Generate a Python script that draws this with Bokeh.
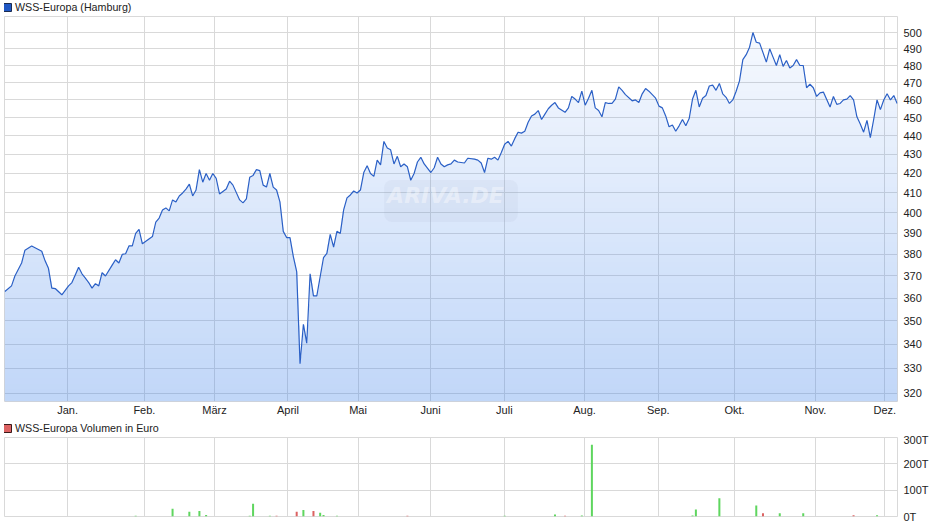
import numpy as np
from bokeh.plotting import figure
from bokeh.models import (Range1d, FixedTicker, PrintfTickFormatter, Legend,
                          LegendItem, Label, ColumnDataSource)
from bokeh.layouts import column
from bokeh.embed import file_html
from bokeh.resources import INLINE

# ---------------- data ----------------
days = [0, 2, 3, 5, 6, 8, 11, 12, 13, 14, 15, 17, 18, 19, 20, 21, 22, 23, 24, 25,
        26, 27, 28, 29, 30, 32, 33, 34, 35, 36, 37, 38, 39, 40, 41, 44, 45, 46, 47, 48,
        49, 50, 51, 52, 53, 54, 55, 56, 57, 58, 59, 60, 61, 62, 63, 64, 66, 67, 68, 70,
        71, 72, 73, 74, 75, 76, 77, 78, 79, 80, 81, 82, 83, 84, 85, 86, 87, 88, 89, 90,
        91, 92, 93, 95, 96, 97, 98, 99, 100, 101, 102, 103, 104, 105, 106, 107, 108, 109, 110, 111,
        112, 113, 114, 115, 116, 117, 118, 119, 120, 121, 122, 123, 124, 125, 127, 128, 129, 130, 131, 132,
        133, 134, 135, 137, 138, 140, 141, 142, 143, 144, 145, 146, 147, 148, 149, 150, 151, 152, 153, 154,
        155, 156, 157, 158, 159, 160, 161, 162, 163, 164, 165, 167, 168, 169, 170, 171, 172, 173, 174, 175,
        176, 177, 178, 179, 180, 181, 182, 183, 184, 185, 187, 188, 189, 190, 191, 192, 193, 194, 195, 196,
        197, 198, 199, 200, 201, 202, 203, 204, 205, 206, 207, 208, 209, 210, 211, 212, 213, 214, 215, 216,
        217, 218, 219, 220, 221, 222, 223, 224, 225, 227, 228, 229, 230, 231, 232, 233, 234, 235, 236, 237,
        238, 239, 240, 241, 242, 243, 244, 246, 247, 248, 249, 250, 251, 252, 253, 254, 255, 256, 257, 258,
        259, 260, 261, 262, 263, 264, 265, 266]

prices = [363, 365.5, 370, 376, 382, 384, 381.5, 377, 373.5, 364.5, 364.3, 361.5, 363.5, 365.5, 367, 370.5, 374, 371, 369, 367,
          364.5, 366.5, 365.5, 371.5, 370, 375, 377.5, 376, 380, 380.3, 384, 384, 390, 392, 385, 388.5, 395.5, 397.5, 401.5, 402.5,
          401, 406.5, 405.5, 408.5, 410, 412, 414.5, 408.5, 411.5, 422, 415.5, 420, 416.5, 420, 417.5, 409.5, 412, 416, 414, 406.5,
          405, 407, 418, 419, 422, 421.5, 414, 413, 420, 413, 411.5, 405.5, 391, 388, 388, 379, 372, 332, 348.5, 340.5,
          371, 361, 361, 378.5, 380.5, 389.5, 383.5, 391, 390, 401.5, 407.5, 409, 411, 410, 411.5, 420.5, 424, 420, 418.5, 427,
          424.5, 437, 433.5, 432.5, 425, 429, 423.5, 425, 423.5, 416.5, 420, 426, 428.5, 425, 420.5, 423, 428.5, 425, 423.5, 424.5,
          425, 427, 426, 425.5, 428, 427.5, 427, 425.5, 420.5, 428, 427.5, 428.5, 427, 431, 435.5, 437, 434.5, 438.5, 442, 441.5,
          442.5, 447.5, 451, 452, 454, 449, 452, 455, 457, 458.5, 455.5, 453, 455.5, 462, 460.5, 458.5, 465, 457, 461, 465.5,
          455.5, 454, 450.5, 458.5, 458, 458, 460.5, 467.5, 465.5, 463, 459.5, 460, 458.5, 463.5, 466.5, 465, 463, 461, 456.5, 455.5,
          451, 445, 446, 442.5, 445.5, 449, 445.5, 449.5, 460.5, 465.5, 456, 461, 462.5, 468, 468.5, 465.5, 469.5, 463.5, 461.5, 458,
          460, 465, 471, 483.5, 486.5, 491, 500, 494, 493.5, 482, 490, 485, 480, 486.5, 479.5, 483, 478.5, 480, 483.5, 480,
          480, 467, 469, 467, 462, 464, 464.5, 456, 462, 457.5, 458, 460, 460.5, 462.5, 460, 450.5, 446.5, 442, 448.5, 439,
          449, 460, 454.5, 460, 463.5, 460, 462.5, 458]

month_ticks = [18.7, 41.6, 62.5, 84.4, 105.3, 126.9, 148.9, 172.8, 194.8, 217.5, 241.6, 262.3]
month_labels = ["Jan.", "Feb.", "März", "April", "Mai", "Juni",
                "Juli", "Aug.", "Sep.", "Okt.", "Nov.", "Dez."]
price_ticks = [320, 330, 340, 350, 360, 370, 380, 390, 400, 410,
               420, 430, 440, 450, 460, 470, 480, 490, 500]

vol_days = [39, 50, 55, 58, 60, 73, 74, 79, 81, 87, 89, 92, 94, 95, 99, 120,
            149, 164, 167, 172, 175, 205, 206, 213, 224, 226, 231, 238, 253, 260]
vol_values = [3, 29, 18, 21, 6, 3, 48, 3, 3, 18, 25, 21, 14, 6, 3, 3,
              3, 8, 3, 4, 272, 4, 27, 69, 42, 12, 12, 12, 5, 5]
vol_dir = ["up", "up", "up", "up", "up", "up", "up", "up", "down", "down", "up", "down", "up", "up", "up", "down",
           "up", "up", "down", "up", "up", "up", "up", "up", "up", "down", "up", "up", "down", "up"]
vol_ticks = [0, 100, 200, 300]

series_name = "WSS-Europa (Hamburg)"
volume_name = "WSS-Europa Volumen in Euro"

# ---------------- styling ----------------
FONT = "Liberation Sans"
TXT = "#222222"
GRID = "#d9d9d9"
LINE = "#2b60c6"
UP = "#5fd65f"
DOWN = "#dc6262"

x_lo, x_hi = -0.1, 266.1
y_lo, y_hi = 316.8, 510.0

FW = 893          # frame width (both panels)
FH1 = 385         # price frame height
FH2 = 79          # volume frame height
BL, BR = 4, 40    # left / right borders


def style_axis(ax, standoff):
    ax.axis_line_color = None
    ax.major_tick_line_color = None
    ax.minor_tick_line_color = None
    ax.major_tick_in = 0
    ax.major_tick_out = 0
    ax.minor_tick_in = 0
    ax.minor_tick_out = 0
    ax.major_label_standoff = standoff
    ax.major_label_text_font = FONT
    ax.major_label_text_font_size = "11px"
    ax.major_label_text_color = TXT


def legend_strip(fill, line, label, strip_h, top_gap):
    """A thin figure that only holds a one-entry legend (sits above a panel)."""
    s = figure(frame_width=FW + BL, frame_height=strip_h, title=None,
               x_range=Range1d(0, 1), y_range=Range1d(0, 1),
               x_axis_location=None, y_axis_location=None,
               output_backend="svg", toolbar_location=None,
               min_border_left=0, min_border_right=BR,
               min_border_top=0, min_border_bottom=0)
    s.outline_line_color = None
    s.xgrid.visible = False
    s.ygrid.visible = False
    # one-row helper (NaN, never drawn) so the legend has a swatch to draw
    r = s.quad(left=[np.nan], right=[np.nan], top=[np.nan], bottom=[np.nan],
               fill_color=fill, line_color=line)
    item_h = 13
    leg = Legend(items=[LegendItem(label=label, renderers=[r])],
                 location=(-2, strip_h - item_h - top_gap), orientation="horizontal",
                 glyph_width=10, glyph_height=10, label_standoff=3,
                 label_text_font=FONT, label_text_font_size="10.7px",
                 label_text_color=TXT, label_height=item_h,
                 label_text_baseline="middle",
                 padding=0, margin=0, spacing=0,
                 border_line_color=None, background_fill_alpha=0)
    s.add_layout(leg, "center")
    return s


# ---------------- price panel ----------------
p1 = figure(frame_width=FW, frame_height=FH1, title=None,
            x_range=Range1d(x_lo, x_hi), y_range=Range1d(y_lo, y_hi),
            y_axis_type="log", y_axis_location="right",
            output_backend="svg", toolbar_location=None,
            min_border_left=BL, min_border_right=BR,
            min_border_top=0, min_border_bottom=0)
p1.outline_line_color = GRID
p1.xaxis.ticker = FixedTicker(ticks=month_ticks)
p1.xaxis.major_label_overrides = dict(zip(month_ticks, month_labels))
p1.yaxis.ticker = FixedTicker(ticks=price_ticks)
p1.yaxis.formatter = PrintfTickFormatter(format="%d")
style_axis(p1.xaxis[0], 2)
style_axis(p1.yaxis[0], 6)
p1.xgrid.grid_line_color = GRID
p1.ygrid.grid_line_color = GRID

# gradient fill below the line (vertical gradient, masked above the line)
W, H = 900, 400
xs = x_lo + (np.arange(W) + 0.5) / W * (x_hi - x_lo)
line_at_x = np.interp(xs, days, prices)
fr = (np.arange(H) + 0.5) / H
vals = y_lo * (y_hi / y_lo) ** fr
alpha_rows = 0.34 - (0.34 - 0.04) * fr
mask = vals[:, None] <= line_at_x[None, :]
img = np.zeros((H, W), dtype=np.uint32)
view = img.view(dtype=np.uint8).reshape((H, W, 4))
view[..., 0] = 70
view[..., 1] = 135
view[..., 2] = 235
view[..., 3] = (mask * alpha_rows[:, None] * 255).astype(np.uint8)
p1.image_rgba(image=[img], x=x_lo, y=y_lo, dw=x_hi - x_lo, dh=y_hi - y_lo)

p1.add_layout(Label(x=(x_lo + x_hi) / 2, y=float(np.sqrt(y_lo * y_hi)), y_offset=8,
                    text="ARIVA.DE", text_align="center", text_baseline="middle",
                    text_font="DejaVu Sans", text_font_style="bold italic",
                    text_font_size="22px", text_color="white", text_alpha=0.4,
                    background_fill_color="#8a9bb8", background_fill_alpha=0.08,
                    padding=(3, 14, 3, 14), border_radius=8))

p1.line(days, prices, line_color=LINE, line_width=1.2)

# ---------------- volume panel ----------------
p2 = figure(frame_width=FW, frame_height=FH2, title=None,
            x_range=p1.x_range, y_range=Range1d(0, 300),
            x_axis_location=None, y_axis_location="right",
            output_backend="svg", toolbar_location=None,
            min_border_left=BL, min_border_right=BR,
            min_border_top=4, min_border_bottom=6)
p2.outline_line_color = GRID
p2.xgrid.ticker = FixedTicker(ticks=month_ticks)
p2.yaxis.ticker = FixedTicker(ticks=vol_ticks)
p2.yaxis.formatter = PrintfTickFormatter(format="%dT")
style_axis(p2.yaxis[0], 6)
p2.xgrid.grid_line_color = GRID
p2.ygrid.grid_line_color = GRID

vsrc = ColumnDataSource(dict(day=vol_days, vol=vol_values,
                             color=[UP if d == "up" else DOWN for d in vol_dir]))
p2.vbar(x="day", top="vol", width=0.6, fill_color="color", line_color=None, source=vsrc)

leg1 = legend_strip("#1f57c3", "#1b2b4f", series_name, 16, 0)
leg2 = legend_strip(DOWN, "#3a1a1a", volume_name, 15, 3)

layout = column(leg1, p1, leg2, p2, spacing=0)
open("out.html", "w").write(file_html(layout, INLINE))
